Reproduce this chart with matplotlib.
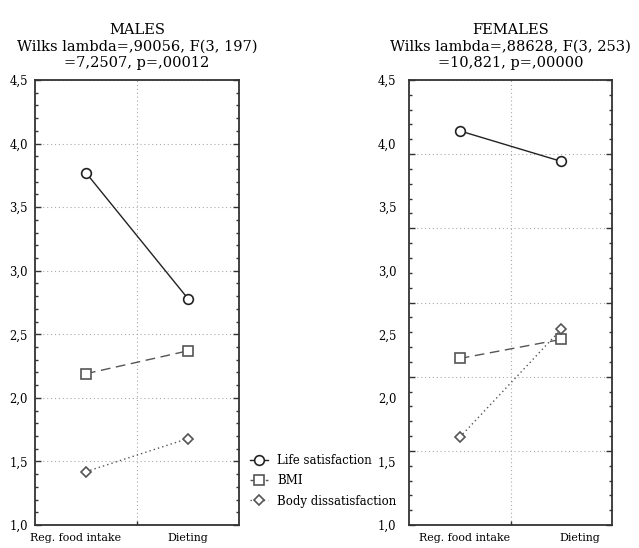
import matplotlib
matplotlib.use("Agg")
import matplotlib.pyplot as plt
import matplotlib.transforms as mtransforms
import numpy as np

plt.rcParams['font.family'] = ['DejaVu Serif']

categories = ["Reg. food intake", "Dieting"]
series_names = ["Life satisfaction", "BMI", "Body dissatisfaction"]

males_life = [3.77, 2.78]
males_bmi = [2.19, 2.37]
males_body = [1.42, 1.68]

females_life = [4.10, 3.86]
females_bmi = [2.31, 2.46]
females_body = [1.69, 2.54]

titles = ["MALES\nWilks lambda=,90056, F(3, 197)\n=7,2507, p=,00012",
          "FEMALES\nWilks lambda=,88628, F(3, 253)\n=10,821, p=,00000"]

ytick_vals = [1.0, 1.5, 2.0, 2.5, 3.0, 3.5, 4.0, 4.5]
ytick_labels = ["1,0", "1,5", "2,0", "2,5", "3,0", "3,5", "4,0", "4,5"]

styles = [
    dict(color="#222222", linestyle="-", marker="o", markersize=7, lw=1.0),
    dict(color="#555555", linestyle=(0, (7, 4)), marker="s", markersize=7, lw=1.0),
    dict(color="#555555", linestyle=(0, (1, 2.2)), marker="D", markersize=5, lw=1.0),
]

fig = plt.figure(figsize=(6.39, 5.48), dpi=100)
ax_m = fig.add_axes([35/639, 23/548, 204/639, 445/548])
ax_f = fig.add_axes([409/639, 23/548, 203/639, 445/548])

x = np.arange(len(categories))

def style_axis(ax, grid_vals, minor_vals):
    ax.set_xlim(-0.5, 1.5)
    ax.set_ylim(1.0, 4.5)
    for s in ax.spines.values():
        s.set_linewidth(1.3)
        s.set_color("#333333")
    ax.set_xticks(x)
    ax.set_xticklabels(categories, fontsize=7.9)
    ax.tick_params(axis='x', which='major', length=0, pad=6)
    ax.set_xticks([0.5], minor=True)
    ax.tick_params(axis='x', which='minor', direction='in', length=3, width=1.0, color="#333333")
    ax.grid(True, which='minor', axis='x', linestyle=(0, (1, 2.5)), color="#aaaaaa", lw=0.8)
    ax.set_yticks(grid_vals)
    ax.set_yticks(minor_vals, minor=True)
    ax.tick_params(axis='y', which='both', direction='in', left=True, right=True,
                   color="#333333", width=1.0)
    ax.tick_params(axis='y', which='major', length=4)
    ax.tick_params(axis='y', which='minor', length=2.5)
    ax.grid(True, which='major', axis='y', linestyle=(0, (1, 2.5)), color="#aaaaaa", lw=0.8)
    ax.set_axisbelow(True)

def plot_series(ax, data):
    lines = []
    for vals, st, name in zip(data, styles, series_names):
        l, = ax.plot(x, vals, color=st["color"], linestyle=st["linestyle"], lw=st["lw"],
                     marker=st["marker"], markersize=st["markersize"],
                     markerfacecolor="white", markeredgecolor=st["color"],
                     markeredgewidth=1.2, label=name, zorder=3)
        lines.append(l)
    return lines

# Males: grid at label positions
m_grid = ytick_vals
m_minor = [v for v in np.round(np.arange(1.0, 4.5001, 0.1), 2) if v not in ytick_vals]
style_axis(ax_m, m_grid, m_minor)
ax_m.set_yticklabels(ytick_labels, fontsize=8.4)
ax_m.tick_params(axis='y', which='major', pad=5)
lines = plot_series(ax_m, [males_life, males_bmi, males_body])

# Females: grid divides range into six parts, labels at 0.5 steps
f_grid = list(np.linspace(1.0, 4.5, 7))
f_all = np.linspace(1.0, 4.5, 31)
f_minor = [v for i, v in enumerate(f_all) if i % 5 != 0]
style_axis(ax_f, f_grid, f_minor)
ax_f.set_yticklabels([])
sec = ax_f.secondary_yaxis('left')
sec.set_yticks(ytick_vals)
sec.set_yticklabels(ytick_labels, fontsize=8.4)
sec.tick_params(axis='y', length=0, pad=9)
sec.spines['left'].set_visible(False)
plot_series(ax_f, [females_life, females_bmi, females_body])

# category label offsets as in reference
offs_m = [-10, 0]
offs_f = [5, 19]
for ax, offs in ((ax_m, offs_m), (ax_f, offs_f)):
    for lab, dx in zip(ax.get_xticklabels(), offs):
        lab.set_transform(lab.get_transform() + mtransforms.ScaledTranslation(dx/100, 0, fig.dpi_scale_trans))

ax_m.set_title(titles[0], fontsize=10.5, linespacing=1.25, pad=9)
ax_f.set_title(titles[1], fontsize=10.5, linespacing=1.25, pad=9)

fig.legend(handles=lines, labels=series_names, loc='center left',
           bbox_to_anchor=(250/639, (548-481)/548), frameon=False, fontsize=8.5,
           handlelength=1.5, handletextpad=0.8, labelspacing=0.6, borderaxespad=0,
           borderpad=0)

fig.savefig("out.png", dpi=100)
